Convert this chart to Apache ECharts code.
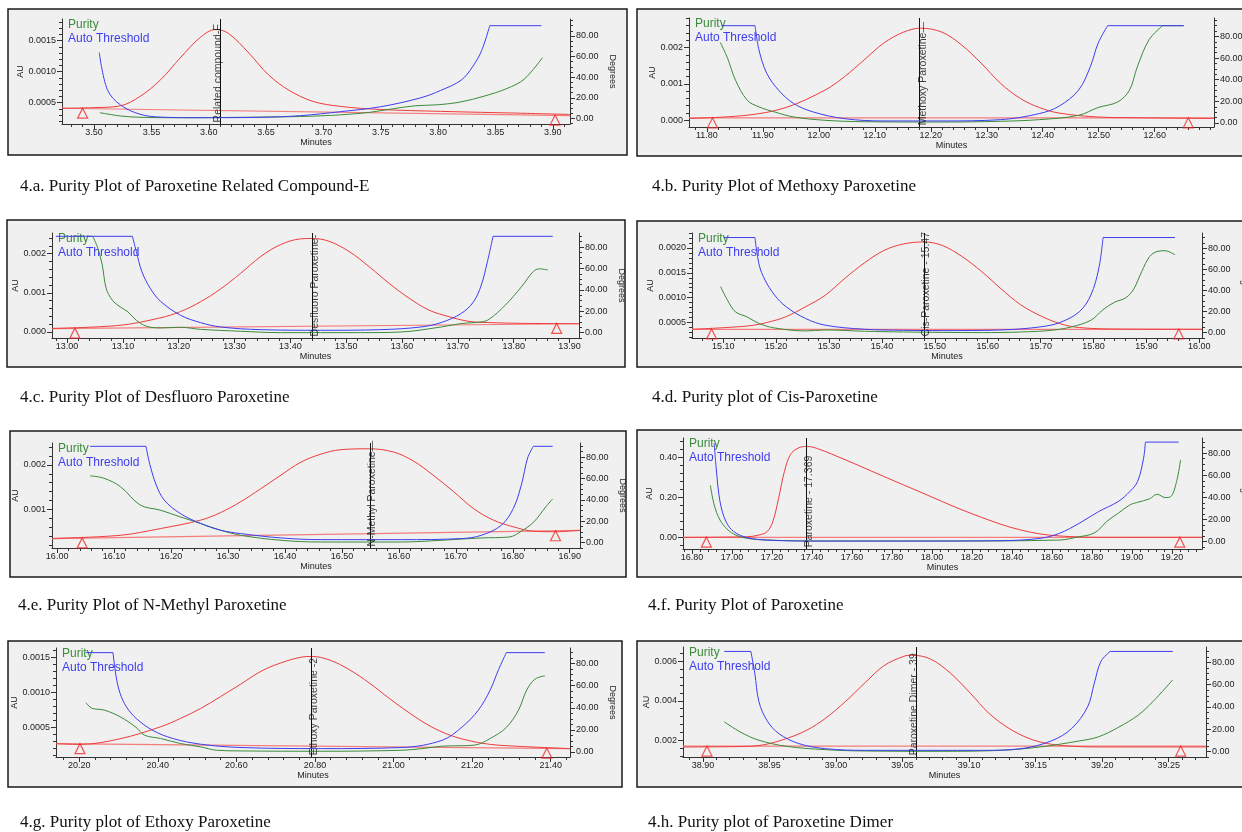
<!DOCTYPE html>
<html>
<head>
<meta charset="utf-8">
<title>Purity plots</title>
<script src="https://cdn.jsdelivr.net/npm/echarts@6/dist/echarts.min.js"></script>
<style>
  html, body { margin: 0; padding: 0; background: #fff; }
  #chart { width: 1242px; height: 832px; }
</style>
</head>
<body>
<div id="chart"></div>
<script>
// values, points are [minutes, value]
const degTicks = [0, 20, 40, 60, 80];

// 4.a related compound-E
const aTimeTicks = [3.50, 3.55, 3.60, 3.65, 3.70, 3.75, 3.80, 3.85, 3.90];
const aAuTicks = [0.0005, 0.0010, 0.0015];
const aPeak = [[3.472,0.00041],[3.500,0.00042],[3.523,0.00045],[3.540,0.00060],[3.558,0.00087],[3.575,0.00122],[3.593,0.00156],[3.606,0.00168],[3.617,0.00162],[3.635,0.00130],[3.652,0.00095],[3.670,0.00070],[3.691,0.00052],[3.715,0.00044],[3.750,0.00039],[3.802,0.00036],[3.872,0.00033],[3.915,0.00031]];
const aPurity = [[3.505,5.5],[3.523,2.3],[3.540,1.0],[3.575,0.6],[3.628,1.0],[3.680,1.8],[3.715,3.4],[3.740,5.8],[3.760,9.2],[3.780,12.2],[3.800,13.2],[3.820,16.0],[3.840,21.5],[3.860,29.0],[3.875,38.0],[3.891,59.0]];
const aThreshold = [[3.5045,64],[3.5115,28],[3.523,13],[3.540,4],[3.558,1.2],[3.593,0.6],[3.645,1.0],[3.680,2.6],[3.715,6.5],[3.750,11.3],[3.785,20],[3.802,27],[3.820,37],[3.830,50],[3.838,66],[3.845,90],[3.890,90]];
const aBase = [[3.472,0.00041],[3.915,0.00029]];
const aMarks = [[3.490,0.00033],[3.902,0.00022]];
const aApex = 3.606;

// 4.b methoxy
const bTimeTicks = [11.80, 11.90, 12.00, 12.10, 12.20, 12.30, 12.40, 12.50, 12.60];
const bAuTicks = [0.000, 0.001, 0.002];
const bPeak = [[11.768,0.00005],[11.872,0.00014],[11.941,0.00035],[12.011,0.00083],[12.046,0.00120],[12.081,0.00166],[12.116,0.00212],[12.151,0.00242],[12.182,0.00253],[12.220,0.00242],[12.255,0.00207],[12.290,0.00157],[12.325,0.00101],[12.360,0.00060],[12.394,0.00035],[12.429,0.00020],[12.499,0.00009],[12.569,0.00007],[12.706,0.00005]];
const bPurity = [[11.824,74.4],[11.837,59.8],[11.851,39.7],[11.872,21.1],[11.893,14.9],[11.921,10.2],[11.955,5.6],[12.011,2.5],[12.081,1.2],[12.220,0.9],[12.325,1.6],[12.394,3.1],[12.464,7.1],[12.499,14.3],[12.534,19.5],[12.555,30.4],[12.569,52],[12.590,77],[12.614,90],[12.652,90]];
const bThreshold = [[11.826,90],[11.886,90],[11.893,67.6],[11.907,45.9],[11.928,30.4],[11.955,18],[11.990,10.2],[12.046,4],[12.116,1.9],[12.220,1.9],[12.325,3.1],[12.394,8.7],[12.429,15.5],[12.464,30.4],[12.485,52],[12.499,73.8],[12.516,90],[12.652,90]];
const bBase = [[11.768,0.000065],[12.706,0.000065]];
const bMarks = [[11.810,-0.00007],[12.660,-0.00007]];
const bApex = 12.182;

// 4.c desfluoro
const cTimeTicks = [13.00, 13.10, 13.20, 13.30, 13.40, 13.50, 13.60, 13.70, 13.80, 13.90];
const cAuTicks = [0.000, 0.001, 0.002];
const cPeak = [[12.973,0.00009],[13.095,0.00017],[13.167,0.00036],[13.203,0.00052],[13.239,0.00077],[13.275,0.00110],[13.311,0.00150],[13.347,0.00193],[13.382,0.00223],[13.418,0.00238],[13.439,0.00239],[13.469,0.00232],[13.505,0.00206],[13.541,0.00167],[13.577,0.00124],[13.613,0.00086],[13.648,0.00056],[13.684,0.00039],[13.720,0.00027],[13.756,0.00024],[13.814,0.00022],[13.917,0.00021]];
const cPurity = [[13.039,90],[13.046,90],[13.055,79],[13.063,63.3],[13.070,41.4],[13.081,30.4],[13.095,24.1],[13.109,19.4],[13.124,11.6],[13.142,6.0],[13.167,4.4],[13.203,5.0],[13.239,3.1],[13.311,1.3],[13.382,0],[13.526,0],[13.598,0.6],[13.670,5.3],[13.706,8.5],[13.742,10.0],[13.756,12.5],[13.785,25.7],[13.814,42.9],[13.835,57.0],[13.846,59.6],[13.861,58.6]];
const cThreshold = [[12.980,90],[13.117,90],[13.124,75.9],[13.134,57],[13.149,41.4],[13.167,29.5],[13.203,16.3],[13.239,9.4],[13.275,5.3],[13.347,2.8],[13.454,2.2],[13.562,2.8],[13.634,5.3],[13.670,9.4],[13.706,17.9],[13.728,28.8],[13.742,44.5],[13.753,66.5],[13.763,90],[13.870,90]];
const cBase = [[12.973,0.000086],[13.917,0.00021]];
const cMarks = [[13.014,-0.00003],[13.877,0.00009]];
const cApex = 13.439;

// 4.d cis
const dTimeTicks = [15.10, 15.20, 15.30, 15.40, 15.50, 15.60, 15.70, 15.80, 15.90, 16.00];
const dAuTicks = [0.0005, 0.0010, 0.0015, 0.0020];
const dPeak = [[15.041,0.000365],[15.145,0.00043],[15.182,0.00050],[15.219,0.00062],[15.256,0.00082],[15.293,0.00105],[15.330,0.00139],[15.367,0.00170],[15.404,0.00195],[15.441,0.00208],[15.479,0.00212],[15.514,0.00205],[15.551,0.00183],[15.588,0.00153],[15.625,0.00118],[15.662,0.00086],[15.699,0.00064],[15.736,0.00048],[15.773,0.00040],[15.847,0.00037],[16.005,0.000365]];
const dPurity = [[15.095,43.5],[15.108,30.8],[15.123,19.7],[15.145,14.9],[15.168,8.6],[15.197,4.4],[15.256,1.6],[15.293,2.5],[15.367,1.3],[15.441,0.6],[15.588,0],[15.662,0.6],[15.721,2.2],[15.758,5.4],[15.795,11.7],[15.817,21.3],[15.839,28.6],[15.861,33.0],[15.876,41.3],[15.891,57.8],[15.906,72.0],[15.920,76.8],[15.935,77.5],[15.954,73.7]];
const dThreshold = [[15.101,90],[15.160,90],[15.168,64],[15.179,49.8],[15.197,35.6],[15.219,24.4],[15.256,13.3],[15.293,7.0],[15.367,3.2],[15.441,2.2],[15.514,1.9],[15.625,2.5],[15.699,5.4],[15.736,9.5],[15.773,19.7],[15.795,35.6],[15.810,61],[15.818,90],[15.954,90]];
const dBase = [[15.041,0.000365],[16.005,0.000365]];
const dMarks = [[15.078,0.00027],[15.961,0.00027]];
const dApex = 15.479;

// 4.e n-methyl
const eTimeTicks = [16.00, 16.10, 16.20, 16.30, 16.40, 16.50, 16.60, 16.70, 16.80, 16.90];
const eAuTicks = [0.001, 0.002];
const ePeak = [[15.991,0.00035],[16.111,0.00042],[16.181,0.00057],[16.252,0.00076],[16.287,0.00093],[16.322,0.00117],[16.357,0.00146],[16.393,0.00177],[16.428,0.00206],[16.463,0.00224],[16.498,0.00234],[16.548,0.00236],[16.590,0.00229],[16.625,0.00209],[16.660,0.00177],[16.696,0.00140],[16.731,0.00102],[16.766,0.00076],[16.801,0.00061],[16.837,0.00051],[16.872,0.00050],[16.918,0.00053]];
const ePurity = [[16.058,62.4],[16.082,60.2],[16.111,52.4],[16.146,35.1],[16.181,30.4],[16.216,24.1],[16.252,17.9],[16.287,11.6],[16.322,6.9],[16.393,2.2],[16.463,0.6],[16.604,0.6],[16.674,2.2],[16.745,4.4],[16.794,5.3],[16.815,10.7],[16.837,19.4],[16.858,33.5],[16.870,40.8]];
const eThreshold = [[16.058,90],[16.156,90],[16.163,72.7],[16.174,53.9],[16.188,39.8],[16.216,27.3],[16.252,17.9],[16.287,11.6],[16.322,8.5],[16.393,4.4],[16.463,2.8],[16.604,2.8],[16.710,3.8],[16.745,6.9],[16.780,16.3],[16.801,32],[16.815,53.9],[16.826,79],[16.836,90],[16.870,90]];
const eBase = [[15.991,0.000346],[16.918,0.00053]];
const eMarks = [[16.044,0.00025],[16.875,0.00041]];
const eApex = 16.548;

// 4.f paroxetine
const fTimeTicks = [16.80, 17.00, 17.20, 17.40, 17.60, 17.80, 18.00, 18.20, 18.40, 18.60, 18.80, 19.00, 19.20];
const fAuTicks = [0.00, 0.20, 0.40];
const fPeak = [[16.755,0],[17.077,0.003],[17.136,0.012],[17.175,0.028],[17.204,0.078],[17.233,0.195],[17.262,0.328],[17.292,0.412],[17.331,0.445],[17.374,0.453],[17.428,0.442],[17.565,0.387],[17.760,0.303],[17.955,0.220],[18.150,0.137],[18.345,0.065],[18.443,0.037],[18.540,0.017],[18.638,0.007],[18.736,0.002],[18.833,0],[19.350,0]];
const fPurity = [[16.892,50.8],[16.911,33.2],[16.940,19.6],[16.980,10.6],[17.019,6.0],[17.077,3.0],[17.175,1.5],[17.467,0.6],[18.053,0.6],[18.638,1.5],[18.736,4.5],[18.794,6.6],[18.833,10.6],[18.872,18.1],[18.931,25.7],[18.989,33.2],[19.028,35.6],[19.087,38.7],[19.126,42.9],[19.165,39.9],[19.194,40.8],[19.223,54.4],[19.243,74.0]];
const fThreshold = [[16.911,89],[16.921,66.5],[16.940,36.3],[16.970,18.1],[17.009,9.1],[17.077,3.6],[17.175,1.5],[17.370,0.6],[17.858,0.6],[18.345,0.9],[18.540,3.0],[18.638,7.6],[18.736,16.6],[18.833,27.2],[18.931,36.3],[18.989,45.3],[19.028,54.4],[19.058,75.5],[19.067,90],[19.233,90]];
const fBase = [[16.755,0],[19.350,0]];
const fMarks = [[16.872,-0.024],[19.239,-0.024]];
const fApex = 17.374;

// 4.g ethoxy
const gTimeTicks = [20.20, 20.40, 20.60, 20.80, 21.00, 21.20, 21.40];
const gAuTicks = [0.0005, 0.0010, 0.0015];
const gPeak = [[20.141,0.00027],[20.202,0.00026],[20.304,0.00034],[20.407,0.00051],[20.458,0.00063],[20.509,0.00077],[20.560,0.00094],[20.612,0.00112],[20.663,0.00130],[20.714,0.00142],[20.765,0.00150],[20.791,0.00151],[20.837,0.00146],[20.888,0.00132],[20.939,0.00113],[20.990,0.00091],[21.042,0.00070],[21.093,0.00052],[21.144,0.00039],[21.195,0.00031],[21.246,0.00026],[21.328,0.00023],[21.449,0.00020]];
const gPurity = [[20.217,44.7],[20.233,39.5],[20.263,38.0],[20.304,31.9],[20.345,22.2],[20.366,15.2],[20.407,12.2],[20.458,7.6],[20.509,4.6],[20.550,1.5],[20.612,0.9],[20.816,0.6],[21.021,1.5],[21.072,3.0],[21.124,5.2],[21.205,6.1],[21.246,12.2],[21.287,22.2],[21.318,38.0],[21.339,56.2],[21.360,66.0],[21.385,69.0]];
const gThreshold = [[20.217,90],[20.286,90],[20.294,68.4],[20.304,53.2],[20.320,41],[20.345,30.4],[20.386,19.8],[20.438,12.2],[20.509,7.0],[20.612,4.0],[20.816,3.0],[21.021,4.0],[21.124,10.6],[21.175,22.8],[21.216,38],[21.246,56.2],[21.267,74.5],[21.287,90],[21.385,90]];
const gBase = [[20.141,0.00027],[21.449,0.00020]];
const gMarks = [[20.202,0.00020],[21.390,0.000135]];
const gApex = 20.791;

// 4.h dimer
const hTimeTicks = [38.90, 38.95, 39.00, 39.05, 39.10, 39.15, 39.20, 39.25];
const hAuTicks = [0.002, 0.004, 0.006];
const hPeak = [[38.885,0.00166],[38.934,0.00169],[38.948,0.00180],[38.963,0.00209],[38.978,0.00251],[38.992,0.00311],[39.007,0.00396],[39.022,0.00493],[39.036,0.00578],[39.051,0.00626],[39.057,0.00631],[39.071,0.00612],[39.086,0.00540],[39.101,0.00438],[39.115,0.00336],[39.130,0.00260],[39.145,0.00209],[39.159,0.00183],[39.174,0.00171],[39.197,0.00166],[39.278,0.00166]];
const hPurity = [[38.916,26.6],[38.928,17.5],[38.942,10.0],[38.963,4.5],[38.992,1.5],[39.022,0.3],[39.080,0],[39.124,0.9],[39.153,3.9],[39.183,9.4],[39.197,13.0],[39.212,21.5],[39.227,32.6],[39.238,44.7],[39.253,64.4]];
const hThreshold = [[38.916,90],[38.936,90],[38.939,70],[38.942,45],[38.948,28],[38.957,16],[38.972,7.0],[38.992,2.4],[39.022,0.9],[39.110,0.9],[39.139,2.4],[39.162,9.5],[39.177,20.5],[39.189,40],[39.194,61],[39.199,81],[39.206,90],[39.253,90]];
const hBase = [[38.885,0.0017],[39.278,0.0017]];
const hMarks = [[38.903,0.00145],[39.259,0.00145]];
const hApex = 39.057;

// layout of the eight panels (pixels) plus axis ranges
const panels = [
  {caption: '4.a. Purity Plot of Paroxetine Related Compound-E', cap: [20, 188], box: [8, 9, 619, 146], grid: [62, 19, 508, 105],
   t: [3.472, 3.915], au: [0.000156, 0.00185], deg: [-5.5, 96.5], auDigits: 4, tMinor: 0.01, auMinor: 0.0001,
   timeTicks: aTimeTicks, auTicks: aAuTicks, peak: aPeak, purity: aPurity, threshold: aThreshold, base: aBase, marks: aMarks, apex: aApex, label: 'Related compound-E'},
  {caption: '4.b. Purity Plot of Methoxy Paroxetine', cap: [652, 188], box: [637, 9, 620, 147], grid: [689, 18, 525, 109],
   t: [11.768, 12.706], au: [-0.000184, 0.00281], deg: [-3.7, 97.1], auDigits: 3, tMinor: 0.02, auMinor: 0.0002,
   timeTicks: bTimeTicks, auTicks: bAuTicks, peak: bPeak, purity: bPurity, threshold: bThreshold, base: bBase, marks: bMarks, apex: bApex, label: 'Methoxy Paroxetine\u2014'},
  {caption: '4.c. Purity Plot of Desfluoro Paroxetine', cap: [20, 399], box: [7, 220, 618, 147], grid: [52, 233, 527, 105],
   t: [12.973, 13.917], au: [-0.000155, 0.00253], deg: [-5, 93.1], auDigits: 3, tMinor: 0.02, auMinor: 0.0002,
   timeTicks: cTimeTicks, auTicks: cAuTicks, peak: cPeak, purity: cPurity, threshold: cThreshold, base: cBase, marks: cMarks, apex: cApex, label: 'Desfluoro Paroxetine-'},
  {caption: '4.d. Purity plot of Cis-Paroxetine', cap: [652, 399], box: [637, 221, 620, 146], grid: [692, 233, 510, 105],
   t: [15.041, 16.005], au: [0.00019, 0.0023], deg: [-5.1, 94.3], auDigits: 4, tMinor: 0.02, auMinor: 0.0001,
   timeTicks: dTimeTicks, auTicks: dAuTicks, peak: dPeak, purity: dPurity, threshold: dThreshold, base: dBase, marks: dMarks, apex: dApex, label: 'Cis-Paroxetine - 15.47'},
  {caption: '4.e. Purity Plot of N-Methyl Paroxetine', cap: [18, 607], box: [10, 431, 616, 146], grid: [52, 443, 528, 105],
   t: [15.991, 16.918], au: [0.000135, 0.00249], deg: [-5, 93.1], auDigits: 3, tMinor: 0.02, auMinor: 0.0002,
   timeTicks: eTimeTicks, auTicks: eAuTicks, peak: ePeak, purity: ePurity, threshold: eThreshold, base: eBase, marks: eMarks, apex: eApex, label: 'N-Methyl Paroxetine\u2014'},
  {caption: '4.f. Purity Plot of Paroxetine', cap: [648, 607], box: [637, 430, 620, 147], grid: [683, 438, 519, 111],
   t: [16.755, 19.35], au: [-0.058, 0.495], deg: [-6.6, 93.7], auDigits: 2, tMinor: 0.04, auMinor: 0.04,
   timeTicks: fTimeTicks, auTicks: fAuTicks, peak: fPeak, purity: fPurity, threshold: fThreshold, base: fBase, marks: fMarks, apex: fApex, label: 'Paroxetine - 17.369'},
  {caption: '4.g. Purity plot of Ethoxy Paroxetine', cap: [20, 824], box: [8, 641, 614, 146], grid: [56, 648, 514, 109],
   t: [20.141, 21.449], au: [0.000081, 0.00163], deg: [-4.6, 94.2], auDigits: 4, tMinor: 0.04, auMinor: 0.0001,
   timeTicks: gTimeTicks, auTicks: gAuTicks, peak: gPeak, purity: gPurity, threshold: gThreshold, base: gBase, marks: gMarks, apex: gApex, label: 'Ethoxy Paroxetine -2'},
  {caption: '4.h. Purity plot of Paroxetine Dimer', cap: [648, 824], box: [637, 641, 620, 146], grid: [683, 647, 523, 110],
   t: [38.885, 39.278], au: [0.00115, 0.00673], deg: [-5.1, 94], auDigits: 3, tMinor: 0.01, auMinor: 0.0004,
   timeTicks: hTimeTicks, auTicks: hAuTicks, peak: hPeak, purity: hPurity, threshold: hThreshold, base: hBase, marks: hMarks, apex: hApex, label: 'Paroxetine Dimer - 39'}
];

const FONT = 'Liberation Sans, Arial, sans-serif';
const RED = '#ee3b3b';
const BASE = '#f47c7c';
const GREEN = '#3b8b3b';
const BLUE = '#3d3df0';
const INK = '#222';
const axisText = {fontSize: 9, color: INK, fontFamily: FONT};

function minorTicks(range, step) {
  const out = [];
  const k0 = Math.ceil(range[0] / step - 1e-6), k1 = Math.floor(range[1] / step + 1e-6);
  for (let k = k0; k <= k1; k++) out.push(+(k * step).toFixed(6));
  return out;
}

// runs sitting on the 90 degree ceiling are drawn straight, the rest smoothed
function degSegments(points) {
  const segs = [];
  let cur = [points[0]];
  let flat = points.length > 1 && points[0][1] >= 90 && points[1][1] >= 90;
  for (let k = 1; k < points.length; k++) {
    const isFlat = points[k][1] >= 90 && points[k - 1][1] >= 90;
    if (isFlat !== flat) {
      segs.push({flat: flat, pts: cur});
      cur = [points[k - 1]];
      flat = isFlat;
    }
    cur.push(points[k]);
  }
  segs.push({flat: flat, pts: cur});
  return segs;
}

const grids = [], xAxes = [], yAxes = [], series = [], legends = [], titles = [], boxes = [];

panels.forEach(function (p, i) {
  const [gl, gt, gw, gh] = p.grid;
  grids.push({left: gl, top: gt, width: gw, height: gh, containLabel: false, outerBoundsMode: 'none'});

  const line = {show: true, onZero: false, lineStyle: {color: '#333', width: 1}};
  xAxes.push({
    type: 'value', gridIndex: i, position: 'bottom', min: p.t[0], max: p.t[1],
    name: 'Minutes', nameLocation: 'middle', nameGap: 14, nameTextStyle: axisText,
    axisLine: line,
    axisTick: {show: true, length: 5, customValues: p.timeTicks, lineStyle: {color: '#333'}},
    axisLabel: {show: true, customValues: p.timeTicks, margin: 4, formatter: v => v.toFixed(2), ...axisText},
    splitLine: {show: false}
  });
  xAxes.push({
    type: 'value', gridIndex: i, position: 'bottom', min: p.t[0], max: p.t[1],
    axisLine: {show: false, onZero: false}, axisLabel: {show: false}, splitLine: {show: false},
    axisTick: {show: true, length: 3, customValues: minorTicks(p.t, p.tMinor), lineStyle: {color: '#333'}}
  });

  yAxes.push({
    type: 'value', gridIndex: i, position: 'left', min: p.au[0], max: p.au[1],
    name: 'AU', nameLocation: 'middle', nameGap: 29, nameRotate: 90, nameTextStyle: axisText,
    axisLine: line,
    axisTick: {show: true, length: 5, customValues: p.auTicks, lineStyle: {color: '#333'}},
    axisLabel: {show: true, customValues: p.auTicks, margin: 6, formatter: v => v.toFixed(p.auDigits), ...axisText},
    splitLine: {show: false}
  });
  yAxes.push({
    type: 'value', gridIndex: i, position: 'right', min: p.deg[0], max: p.deg[1],
    name: 'Degrees', nameLocation: 'middle', nameGap: 38, nameRotate: -90, nameTextStyle: axisText,
    axisLine: line,
    axisTick: {show: true, length: 5, customValues: degTicks, lineStyle: {color: '#333'}},
    axisLabel: {show: true, customValues: degTicks, margin: 6, formatter: v => v.toFixed(2), ...axisText},
    splitLine: {show: false}
  });
  yAxes.push({
    type: 'value', gridIndex: i, position: 'left', min: p.au[0], max: p.au[1],
    axisLine: {show: false, onZero: false}, axisLabel: {show: false}, splitLine: {show: false},
    axisTick: {show: true, length: 3, customValues: minorTicks(p.au, p.auMinor), lineStyle: {color: '#333'}}
  });
  yAxes.push({
    type: 'value', gridIndex: i, position: 'right', min: p.deg[0], max: p.deg[1],
    axisLine: {show: false, onZero: false}, axisLabel: {show: false}, splitLine: {show: false},
    axisTick: {show: true, length: 3, customValues: minorTicks(p.deg, 5), lineStyle: {color: '#333'}}
  });

  const xi = 2 * i, yAu = 4 * i, yDeg = 4 * i + 1;
  series.push({type: 'line', name: 'Baseline', xAxisIndex: xi, yAxisIndex: yAu, data: p.base,
    symbol: 'none', lineStyle: {color: BASE, width: 1.2}, z: 2});
  series.push({type: 'line', name: 'Peak', xAxisIndex: xi, yAxisIndex: yAu, data: p.peak,
    smooth: 0.35, symbol: 'none', lineStyle: {color: RED, width: 1}, z: 3});
  series.push({type: 'scatter', name: 'Integration', xAxisIndex: xi, yAxisIndex: yAu, data: p.marks,
    symbol: 'triangle', symbolSize: 10,
    itemStyle: {color: 'rgba(255,255,255,0)', borderColor: '#f02a2a', borderWidth: 1.2}, z: 4});
  degSegments(p.purity).forEach(function (s) {
    series.push({type: 'line', name: 'Purity', xAxisIndex: xi, yAxisIndex: yDeg, data: s.pts,
      smooth: s.flat ? false : 0.35, symbol: 'none', lineStyle: {color: GREEN, width: 1}, z: 5});
  });
  degSegments(p.threshold).forEach(function (s) {
    series.push({type: 'line', name: 'Auto Threshold', xAxisIndex: xi, yAxisIndex: yDeg, data: s.pts,
      smooth: s.flat ? false : 0.35, symbol: 'none', lineStyle: {color: BLUE, width: 1}, z: 6});
  });
  series.push({
    type: 'scatter', name: 'Apex', xAxisIndex: xi, yAxisIndex: yAu,
    data: [[p.apex, p.au[0] + 0.015 * (p.au[1] - p.au[0])]],
    symbolSize: 1, itemStyle: {color: 'rgba(0,0,0,0)'},
    label: {show: true, formatter: p.label, rotate: 90, position: 'inside', align: 'left', verticalAlign: 'middle',
      offset: [0, 2.5], fontSize: 10.5, color: '#111', fontFamily: FONT},
    markLine: {silent: true, symbol: 'none', label: {show: false},
      lineStyle: {color: '#111', width: 1, type: 'solid'}, data: [{xAxis: p.apex}]},
    z: 8
  });

  legends.push({
    left: gl, top: gt, orient: 'vertical', padding: 0, itemGap: 2, itemWidth: 0, itemHeight: 0,
    selectedMode: false, itemStyle: {opacity: 0}, lineStyle: {opacity: 0},
    textStyle: {fontSize: 12, fontFamily: FONT},
    data: [{name: 'Purity', textStyle: {color: GREEN}}, {name: 'Auto Threshold', textStyle: {color: BLUE}}]
  });

  titles.push({
    text: p.caption, left: p.cap[0], top: p.cap[1] - 10, padding: 0,
    textStyle: {fontFamily: 'Liberation Serif, Times New Roman, serif', fontSize: 17, fontWeight: 'normal', color: '#111'}
  });

  boxes.push({
    type: 'rect', silent: true, z: -100,
    shape: {x: p.box[0], y: p.box[1], width: p.box[2], height: p.box[3]},
    style: {fill: '#f0f0f0', stroke: '#1a1a1a', lineWidth: 1.5}
  });
});

const chart = echarts.init(document.getElementById('chart'));
chart.setOption({
  animation: false,
  backgroundColor: '#fff',
  title: titles,
  legend: legends,
  grid: grids,
  xAxis: xAxes,
  yAxis: yAxes,
  series: series,
  graphic: {elements: boxes}
});
</script>
</body>
</html>
